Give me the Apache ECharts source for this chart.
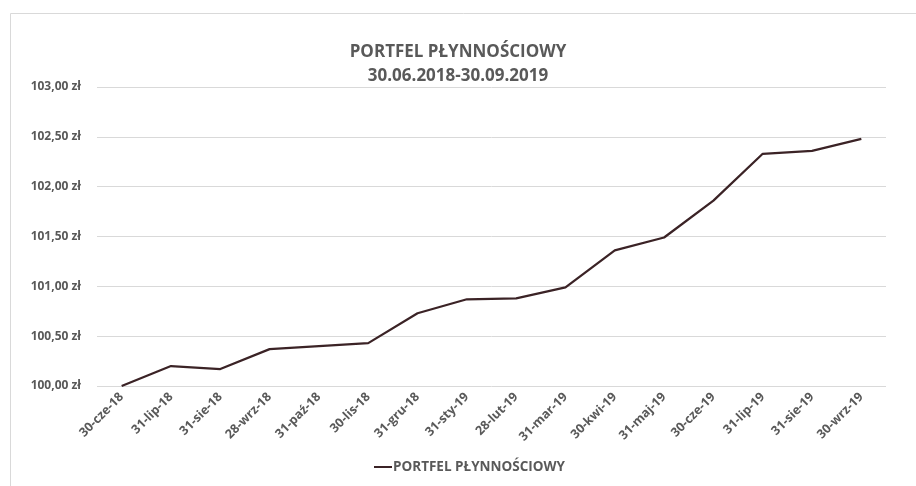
<!DOCTYPE html>
<html>
<head>
<meta charset="utf-8">
<script src="https://cdn.jsdelivr.net/npm/echarts@6/dist/echarts.min.js"></script>
<style>html,body{margin:0;padding:0;background:#fff}#c{width:916px;height:486px}</style>
</head>
<body>
<div id="c"></div>
<script>
const categories = ['30-cze-18','31-lip-18','31-sie-18','28-wrz-18','31-paź-18','30-lis-18','31-gru-18','31-sty-19','28-lut-19','31-mar-19','30-kwi-19','31-maj-19','30-cze-19','31-lip-19','31-sie-19','30-wrz-19'];
const values = [100.00,100.20,100.17,100.37,100.40,100.43,100.73,100.87,100.88,100.99,101.36,101.49,101.86,102.33,102.36,102.48];
const seriesName = 'PORTFEL PŁYNNOŚCIOWY';
const titleLines = ['PORTFEL PŁYNNOŚCIOWY','30.06.2018-30.09.2019'];
const yMin = 100, yMax = 103, yStep = 0.5;

const FONT = '"Open Sans", sans-serif';
const chart = echarts.init(document.getElementById('c'));
chart.setOption({
  animation: false,
  graphic: [{
    type: 'rect', left: 8, top: 11, silent: true,
    shape: {x: 0, y: 0, width: 1000, height: 1000},
    style: {fill: 'none', stroke: '#d9d9d9', lineWidth: 1}
  }],
  title: {
    text: titleLines.join('\n'),
    left: 'center', top: 35,
    textStyle: {fontFamily: FONT, fontSize: 17, fontWeight: 'bold', color: '#595959', lineHeight: 24}
  },
  legend: {
    bottom: 7, left: 369,
    itemWidth: 18, itemHeight: 10, itemGap: 4,
    icon: 'path://M0,4 L18,4 L18,6 L0,6 Z',
    data: [seriesName],
    textStyle: {fontFamily: FONT, fontSize: 13.5, fontWeight: 'bold', color: '#595959', padding: [0,0,0,-4]}
  },
  grid: {left: 97, right: 30, top: 87, bottom: 100},
  xAxis: {
    type: 'category', data: categories, boundaryGap: true,
    axisLine: {show: false}, axisTick: {show: false},
    axisLabel: {rotate: 45, margin: 9, fontFamily: FONT, fontSize: 12.5, fontWeight: 'bold', color: '#595959', interval: 0}
  },
  yAxis: {
    type: 'value', min: yMin, max: yMax, interval: yStep,
    axisLine: {show: false}, axisTick: {show: false},
    splitLine: {lineStyle: {color: '#d9d9d9', width: 1}},
    axisLabel: {margin: 16, fontFamily: FONT, fontSize: 12, fontWeight: 'bold', color: '#595959',
      formatter: v => v.toFixed(2).replace('.', ',') + ' zł'}
  },
  series: [{
    name: seriesName, type: 'line', data: values,
    symbol: 'none', lineStyle: {color: '#3b2326', width: 2.25}, itemStyle: {color: '#3b2326'}
  }]
});
</script>
</body>
</html>
